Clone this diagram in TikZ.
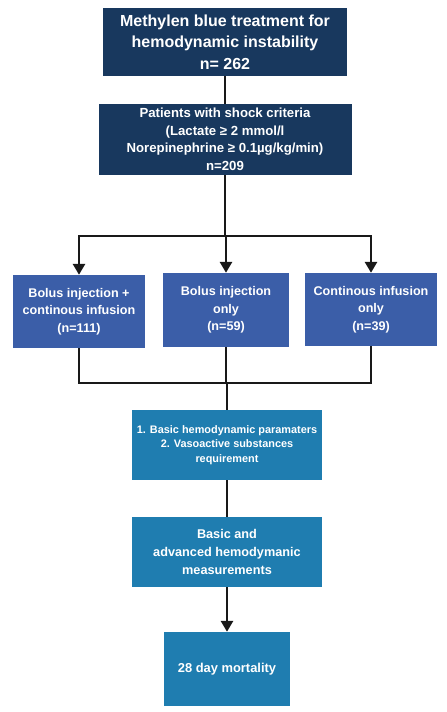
\documentclass[tikz,border=0pt]{standalone}
\usepackage{fontspec}
\setmainfont{Liberation Sans}
\usetikzlibrary{arrows.meta}
\definecolor{navy}{RGB}{24,56,94}
\definecolor{midblue}{RGB}{59,94,168}
\definecolor{teal}{RGB}{31,125,176}
\definecolor{ink}{RGB}{25,25,25}

\begin{document}
\begin{tikzpicture}[x=1pt,y=-1pt,
  box/.style={text=white,align=center,inner sep=2pt},
  navybox/.style={box,fill=navy},
  groupbox/.style={box,fill=midblue,minimum width=130pt,minimum height=73pt,
    font=\bfseries\fontsize{12.6}{17.5}\selectfont},
  tealbox/.style={box,fill=teal},
  link/.style={draw=ink,line width=2.8pt},
  arr/.style={link,-{Triangle[width=12pt,length=11pt]}}]
  \useasboundingbox (0,0) rectangle (447,712);
  \node at (225,42) (cohort) [navybox,minimum width=244pt,minimum height=68pt,
    font=\bfseries\fontsize{16}{21.5}\selectfont]
    {Methylen blue treatment for\\hemodynamic instability\\n= 262};
  \node at (225,139.5) (shock) [navybox,minimum width=253pt,minimum height=71pt,
    font=\bfseries\fontsize{13.2}{17.5}\selectfont]
    {Patients with shock criteria\\(Lactate ≥ 2 mmol/l\\Norepinephrine ≥ 0.1µg/kg/min)\\n=209};
  \node at (79,311.5) (bolcont) [groupbox,minimum width=132pt]
    {Bolus injection +\\continous infusion\\(n=111)};
  \node at (226,310) (bolus) [groupbox,minimum width=126pt,minimum height=74pt]
    {Bolus injection\\only\\(n=59)};
  \node at (371,309.5) (contin) [groupbox,minimum width=132pt]
    {Continous infusion\\only\\(n=39)};
  \node at (227,445) (params) [tealbox,minimum width=190pt,minimum height=70pt,
    font=\bfseries\fontsize{10.9}{14.7}\selectfont]
    {1. Basic hemodynamic paramaters\\2. Vasoactive substances\\requirement};
  \node at (227,552) (measure) [tealbox,minimum width=190pt,minimum height=70pt,
    font=\bfseries\fontsize{12.7}{18}\selectfont]
    {Basic and\\advanced hemodymanic\\measurements};
  \node at (227,669) (mortality) [tealbox,minimum width=126pt,minimum height=74pt,
    font=\bfseries\fontsize{12.9}{17}\selectfont]
    {28 day mortality};
  \coordinate (split) at (shock.south |- 0,236);
  \coordinate (merge) at (params.north |- 0,383);
  \draw[link] (cohort) -- (shock);
  \draw[link] (shock.south) -- (split);
  \foreach \g in {bolcont,bolus,contin} \draw[arr] (split) -| (\g.north);
  \foreach \g in {bolcont,bolus,contin} \draw[link] (\g.south) |- (merge);
  \draw[link] (merge) -- (params.north);
  \draw[link] (params) -- (measure);
  \draw[arr] (measure) -- (mortality);
\end{tikzpicture}
\end{document}
